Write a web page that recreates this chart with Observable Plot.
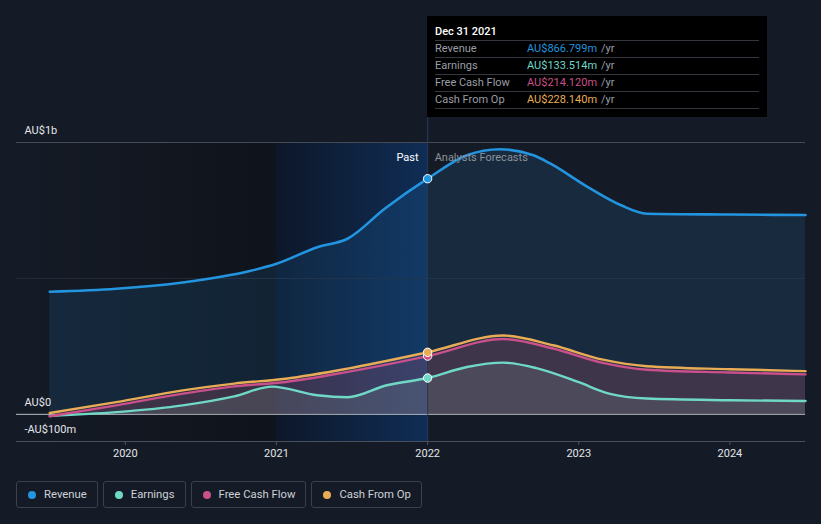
<!DOCTYPE html>
<html><head><meta charset="utf-8">
<script src="https://cdn.jsdelivr.net/npm/d3@7"></script>
<script src="https://cdn.jsdelivr.net/npm/@observablehq/plot@0.6"></script>
<style>
html,body{margin:0;padding:0;background:#151b26;}
body{width:821px;height:524px;overflow:hidden;position:relative;font-family:Roboto,"Open Sans",sans-serif;}
#chart{position:absolute;left:0;top:0;}
#chart svg{display:block;}
.tip{position:absolute;left:427px;top:16px;width:340px;height:101px;background:#000;box-sizing:border-box;padding:7px 8px 0 8px;font-size:11px;}
.tip .title{color:#fff;height:17px;line-height:17px;border-bottom:1px solid #34373d;font-weight:500;}
.tip .row{height:16px;line-height:16px;border-bottom:1px solid #34373d;display:flex;}
.tip .lab{width:92px;color:#9a9ea6;}
.tip .unit{color:#9a9ea6;margin-left:4px;}
.legend{position:absolute;left:16px;top:481px;display:flex;gap:5px;}
.legend .item{box-sizing:border-box;height:27px;border:1px solid #3b414c;border-radius:3px;padding:0 10px 0 11px;display:flex;align-items:center;font-size:11.3px;color:#cdd1d7;}
.legend .dot{width:8px;height:8px;border-radius:50%;margin-right:8px;}
</style>
</head><body>
<div id="chart"></div>
<div class="tip" id="tip"></div>
<div class="legend" id="legend"></div>
<script>
// ---- data (values in AU$ millions) ----
const seriesNames = ["Revenue", "Earnings", "Free Cash Flow", "Cash From Op"];
const seriesColors = ["#2394df", "#6fd8c7", "#c9508b", "#e9ac56"];

const revenueDates  = [2019.5, 2019.94, 2020.38, 2020.83, 2021.0, 2021.27, 2021.47, 2021.72, 2022.0, 2022.26, 2022.48, 2022.70, 2022.81, 2023.06, 2023.28, 2023.45, 2024.0, 2024.5];
const revenueValues = [451, 462, 485, 528, 554, 615, 646, 758, 866.8, 953, 975, 953, 923, 836, 769, 738, 735, 733];

const earningsDates  = [2019.5, 2019.94, 2020.38, 2020.72, 2020.97, 2021.27, 2021.47, 2021.73, 2022.0, 2022.26, 2022.5, 2022.72, 2023.0, 2023.2, 2023.45, 2024.0, 2024.5];
const earningsValues = [-6, 8, 33, 66, 102, 70, 63, 107, 133.5, 174, 190, 170, 118, 76, 58, 52, 49];

const fcfDates  = [2019.5, 2019.94, 2020.38, 2020.72, 2021.06, 2021.47, 2022.0, 2022.5, 2022.83, 2023.16, 2023.45, 2024.0, 2024.5];
const fcfValues = [-7, 33, 76, 103, 119, 156, 214.1, 277, 242, 189, 164, 154, 147];

const cfoDates  = [2019.5, 2019.94, 2020.38, 2020.72, 2021.06, 2021.47, 2022.0, 2022.5, 2022.83, 2023.16, 2023.45, 2024.0, 2024.5];
const cfoValues = [5, 45, 88, 113, 131, 168, 228.1, 290, 254, 201, 177, 166, 159];

const nowDate = 2022.0;
const pastStart = 2021.0;
const tooltipTitle = "Dec 31 2021";
const tooltipValues = ["AU$866.799m", "AU$133.514m", "AU$214.120m", "AU$228.140m"];
const nowValues = [866.8, 133.5, 214.1, 228.1];

const xDomain = [2019.28, 2024.5];
const xTicks = [2020, 2021, 2022, 2023, 2024];
const yDomain = [-100, 1000];
const yTickValues = [1000, 0, -100];
const yTickLabels = ["AU$1b", "AU$0", "-AU$100m"];
const gridValues = [1000, 500];

// ---- build ----
const rows = (dates, values) => dates.map((d, i) => ({date: d, value: values[i]}));
const revenue = rows(revenueDates, revenueValues);
const earnings = rows(earningsDates, earningsValues);
const fcf = rows(fcfDates, fcfValues);
const cfo = rows(cfoDates, cfoValues);
const nowPoints = nowValues.map((v, i) => ({date: nowDate, value: v, color: seriesColors[i]}));
const yLabels = yTickValues.map((v, i) => ({value: v, label: yTickLabels[i]}));
const curve = "monotone-x";

const chart = Plot.plot({
  width: 821,
  height: 470,
  marginLeft: 16,
  marginRight: 16,
  marginTop: 142,
  marginBottom: 29,
  x: {domain: xDomain, ticks: xTicks, tickFormat: d => String(d), tickSize: 4, tickPadding: 4, label: null},
  y: {domain: yDomain, axis: null},
  style: {background: "transparent", color: "#e3e5e8", fontFamily: "Roboto, sans-serif", fontSize: "11px"},
  marks: [
    Plot.rectX([{a: xDomain[0], b: pastStart}], {x1: "a", x2: "b", fill: "url(#leftGrad)"}),
    Plot.rectX([{a: pastStart, b: nowDate}], {x1: "a", x2: "b", fill: "url(#pastGrad)"}),
    Plot.ruleY(gridValues, {stroke: d => d === 1000 ? "#454b56" : "#222a36", strokeWidth: 1}),
    Plot.areaY(revenue, {x: "date", y: "value", fill: "#2394df", fillOpacity: 0.13, curve}),
    Plot.areaY(cfo, {x: "date", y: "value", fill: "#e9ac56", fillOpacity: 0.05, curve}),
    Plot.areaY(fcf, {x: "date", y: "value", fill: "#c9508b", fillOpacity: 0.18, curve}),
    Plot.areaY(earnings, {x: "date", y: "value", fill: "#7f9a96", fillOpacity: 0.2, curve}),
    Plot.ruleY([0], {stroke: "#b9bdc3", strokeWidth: 1}),
    Plot.ruleY([yDomain[0]], {stroke: "#4a505b", strokeWidth: 1}),
    Plot.ruleX([nowDate], {stroke: "#28395a", strokeWidth: 1, insetTop: -26}),
    Plot.lineY(revenue, {x: "date", y: "value", stroke: seriesColors[0], strokeWidth: 2.6, curve}),
    Plot.lineY(earnings, {x: "date", y: "value", stroke: seriesColors[1], strokeWidth: 2.4, curve}),
    Plot.lineY(cfo, {x: "date", y: "value", stroke: seriesColors[3], strokeWidth: 2.4, curve}),
    Plot.lineY(fcf, {x: "date", y: "value", stroke: seriesColors[2], strokeWidth: 2.4, curve}),
    Plot.dot(nowPoints, {x: "date", y: "value", fill: "color", stroke: "#ffffff", strokeWidth: 1, r: 4.2}),
    Plot.text([nowDate], {x: d => d, frameAnchor: "top", dy: 11, dx: -9, text: () => "Past", textAnchor: "end", fill: "#ffffff"}),
    Plot.text([nowDate], {x: d => d, frameAnchor: "top", dy: 11, dx: 7, text: () => "Analysts Forecasts", textAnchor: "start", fill: "#8c919a"}),
    Plot.text(yLabels, {y: "value", text: "label", frameAnchor: "left", dx: 8, dy: -12, textAnchor: "start", fill: "#e3e5e8"})
  ]
});
document.getElementById("chart").appendChild(chart);

// gradients
const svg = d3.select(chart);
const defs = svg.insert("defs", ":first-child");
const lg = defs.append("linearGradient").attr("id", "leftGrad").attr("x1", "0").attr("x2", "1").attr("y1", "0").attr("y2", "0");
lg.append("stop").attr("offset", "0").attr("stop-color", "#000").attr("stop-opacity", 0);
lg.append("stop").attr("offset", "1").attr("stop-color", "#000").attr("stop-opacity", 0.3);
const pg = defs.append("linearGradient").attr("id", "pastGrad").attr("x1", "0").attr("x2", "1").attr("y1", "0").attr("y2", "0");
pg.append("stop").attr("offset", "0").attr("stop-color", "#0d1729");
pg.append("stop").attr("offset", "1").attr("stop-color", "#0f2d55");
svg.selectAll('[aria-label="x-axis tick"] path, [aria-label="x-axis tick"]').attr("stroke", "#4f5560");

// tooltip
const tip = document.getElementById("tip");
let html = `<div class="title">${tooltipTitle}</div>`;
seriesNames.forEach((n, i) => {
  html += `<div class="row"><span class="lab">${n}</span><span style="color:${seriesColors[i]}">${tooltipValues[i]}</span><span class="unit">/yr</span></div>`;
});
tip.innerHTML = html;

// legend
const legend = document.getElementById("legend");
seriesNames.forEach((n, i) => {
  const it = document.createElement("div");
  it.className = "item";
  it.innerHTML = `<span class="dot" style="background:${seriesColors[i]}"></span>${n}`;
  legend.appendChild(it);
});
</script>
</body></html>
